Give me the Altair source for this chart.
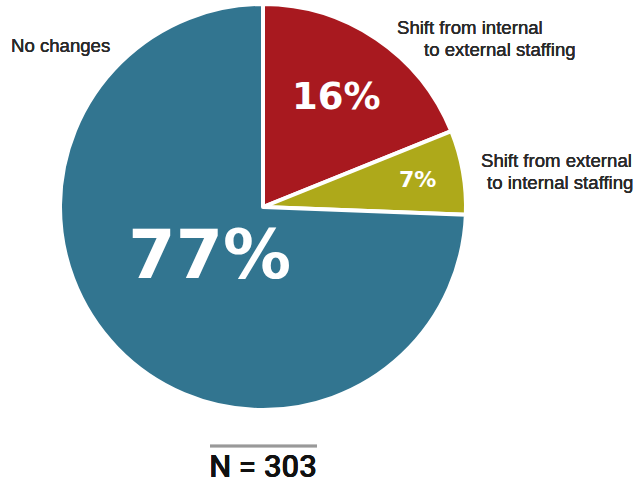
import altair as alt
import pandas as pd

categories = [
    "Shift from internal to external staffing",
    "Shift from external to internal staffing",
    "No changes",
]
pct_labels = ["16%", "7%", "77%"]
shares = [18.9, 6.7, 74.4]
slice_order = [0, 1, 2]
colors = ["#A8191F", "#AEA91A", "#327590"]

df = pd.DataFrame({"cat": categories, "label": pct_labels, "share": shares, "ord": slice_order})

base = alt.Chart(df).encode(
    theta=alt.Theta("share:Q", stack=True),
    order=alt.Order("ord:Q"),
)

pie = base.mark_arc(outerRadius=203, stroke="white", strokeWidth=4, strokeJoin="round").encode(
    color=alt.Color("cat:N", scale=alt.Scale(domain=categories, range=colors), legend=None)
)


def pct_layer(cat, r, size):
    return base.transform_calculate(
        txt=f"datum.cat == '{cat}' ? datum.label : ''"
    ).mark_text(
        radius=r, fontSize=size, font="DejaVu Sans", fontWeight="bold",
        color="white", align="center", baseline="middle",
    ).encode(text="txt:N", detail="cat:N")


pct_red = pct_layer(categories[0], 131, 37)
pct_olive = pct_layer(categories[1], 157, 22)
pct_blue = pct_layer(categories[2], 74, 68)


def note(txt, x, y):
    return alt.Chart(df).mark_text(
        font="Liberation Sans", fontSize=18.6, color="#2a2a2a",
        align="left", baseline="alphabetic",
    ).encode(x=alt.value(x), y=alt.value(y), text=alt.value(txt))


notes = [
    note("No changes", 11, 52),
    note("Shift from internal", 397, 34),
    note("to external staffing", 424, 56),
    note("Shift from external", 481, 167),
    note("to internal staffing", 487, 189),
]

rule = alt.Chart(df).mark_rule(color="#999999", strokeWidth=2.5).encode(
    x=alt.value(210), x2=alt.value(317), y=alt.value(446)
)

n_text = alt.Chart(df).mark_text(
    font="Roboto", fontSize=31, fontWeight=500, color="#111111",
    align="center", baseline="alphabetic",
).encode(x=alt.value(263), y=alt.value(477), text=alt.value("N = 303"))

chart = alt.layer(pie, pct_red, pct_olive, pct_blue, *notes, rule, n_text).properties(
    width=526,
    height=414,
    padding={"left": 0, "top": 0, "right": 115, "bottom": 70},
    autosize="none",
    background="white",
).configure_view(stroke=None)

chart.save("out.html", embed_options={"renderer": "svg", "actions": False})
